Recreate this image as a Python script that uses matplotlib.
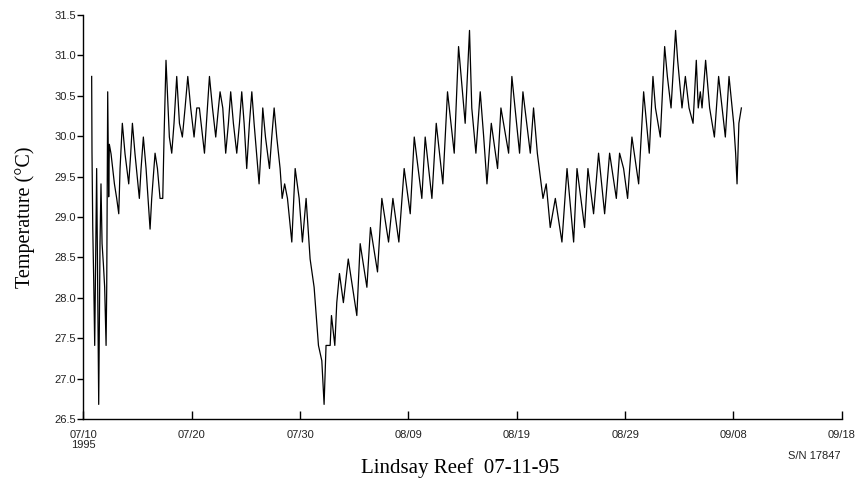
import matplotlib
matplotlib.use("Agg")
import matplotlib.pyplot as plt
import matplotlib.dates as mdates
import pandas as pd
import numpy as np

# time in days after 1995-07-10 00:00
days = [0.77, 0.80, 0.87, 0.96, 1.05, 1.23, 1.33, 1.42, 1.54, 1.63, 1.73, 1.85, 1.97, 2.10, 2.16,
        2.25, 2.34, 2.40, 2.56, 2.71, 2.87, 3.08, 3.27, 3.39, 3.60, 3.85, 4.19, 4.37, 4.53, 4.77,
        5.17, 5.33, 5.54, 5.79, 6.16, 6.31, 6.62, 6.84, 7.08, 7.33, 7.45, 7.63, 7.76, 7.94, 8.16,
        8.37, 8.62, 8.87, 9.14, 9.39, 9.64, 9.91, 10.22, 10.47, 10.71, 11.18, 11.45, 11.64, 11.92,
        12.22, 12.47, 12.62, 12.87, 13.14, 13.39, 13.60, 13.85, 14.16, 14.41, 14.62, 14.84, 15.08,
        15.33, 15.55, 15.76, 16.22, 16.38, 16.56, 16.81, 17.18, 17.39, 17.61, 17.85, 18.16, 18.35,
        18.58, 18.84, 19.24, 19.55, 19.92, 20.22, 20.56, 20.93, 21.30, 21.70, 22.01, 22.22, 22.40,
        22.78, 22.90, 23.21, 23.39, 23.64, 24.00, 24.45, 24.85, 25.24, 25.55, 26.17, 26.50, 27.15,
        27.55, 28.17, 28.57, 29.12, 29.61, 30.17, 30.54, 31.24, 31.55, 32.17, 32.57, 33.18, 33.61,
        34.23, 34.63, 35.24, 35.64, 35.85, 36.23, 36.63, 36.95, 37.25, 37.65, 38.23, 38.54, 39.25,
        39.55, 40.26, 40.57, 41.25, 41.55, 41.90, 42.42, 42.72, 43.09, 43.56, 44.17, 44.64, 45.25,
        45.56, 46.26, 46.57, 47.09, 47.55, 48.11, 48.57, 49.19, 49.49, 49.86, 50.23, 50.63, 51.25,
        51.71, 52.23, 52.57, 52.80, 53.25, 53.65, 53.90, 54.24, 54.66, 54.85, 55.25, 55.56, 55.90,
        56.27, 56.57, 56.75, 56.94, 57.10, 57.43, 57.80, 58.24, 58.63, 59.25, 59.59, 60.02, 60.20,
        60.33, 60.50, 60.73]
temps = [30.74, 29.80, 28.87, 28.21, 27.41, 29.60, 28.13, 26.68, 28.67, 29.41, 28.67, 28.42, 28.13, 27.41, 28.13,
         30.55, 29.25, 29.90, 29.78, 29.60, 29.41, 29.23, 29.04, 29.60, 30.16, 29.78, 29.41, 29.78, 30.16, 29.78,
         29.23, 29.60, 29.99, 29.60, 28.85, 29.23, 29.79, 29.60, 29.23, 29.23, 29.99, 30.94, 30.55, 29.99, 29.79,
         30.16, 30.74, 30.16, 29.99, 30.35, 30.74, 30.35, 29.99, 30.35, 30.35, 29.79, 30.35, 30.74, 30.35,
         29.99, 30.35, 30.55, 30.35, 29.79, 30.16, 30.55, 30.16, 29.79, 30.16, 30.55, 30.16, 29.60,
         30.16, 30.55, 30.16, 29.41, 29.79, 30.35, 29.99, 29.60, 29.99, 30.35, 29.99, 29.60, 29.23,
         29.41, 29.23, 28.69, 29.60, 29.23, 28.69, 29.23, 28.48, 28.13, 27.41, 27.22, 26.68, 27.41,
         27.41, 27.78, 27.41, 27.94, 28.30, 27.94, 28.48, 28.13, 27.78, 28.67, 28.13, 28.87, 28.32,
         29.23, 28.69, 29.23, 28.69, 29.60, 29.04, 29.99, 29.23, 29.99, 29.23, 30.16, 29.41, 30.55,
         29.79, 31.11, 30.16, 31.31, 30.35, 29.79, 30.55, 29.99, 29.41, 30.16, 29.60, 30.35, 29.79,
         30.74, 29.79, 30.55, 29.79, 30.35, 29.79, 29.23, 29.41, 28.87, 29.23, 28.69, 29.60, 28.69,
         29.60, 28.87, 29.60, 29.04, 29.79, 29.04, 29.79, 29.23, 29.79, 29.60, 29.23, 29.99, 29.41,
         30.55, 29.79, 30.74, 30.35, 29.99, 31.11, 30.74, 30.35, 31.31, 30.94, 30.35, 30.74, 30.35,
         30.16, 30.94, 30.35, 30.55, 30.35, 30.94, 30.35, 29.99, 30.74, 29.99, 30.74, 30.16, 29.79,
         29.41, 30.16, 30.35]

tick_dates = ["1995-07-10", "1995-07-20", "1995-07-30", "1995-08-09", "1995-08-19",
              "1995-08-29", "1995-09-08", "1995-09-18"]
tick_labels = ["07/10\n1995", "07/20", "07/30", "08/09", "08/19", "08/29", "09/08", "09/18"]
y_ticks = [26.5, 27.0, 27.5, 28.0, 28.5, 29.0, 29.5, 30.0, 30.5, 31.0, 31.5]

start = pd.Timestamp("1995-07-10")
times = start + pd.to_timedelta(np.array(days), unit="D")

fig = plt.figure(figsize=(8.59, 4.86), dpi=100)
ax = fig.add_axes([0.097, 0.138, 0.883, 0.831])
ax.plot(times, temps, color="black", linewidth=0.9)

ax.set_xlim(pd.Timestamp(tick_dates[0]), pd.Timestamp(tick_dates[-1]))
ax.set_ylim(26.5, 31.5)
ax.set_xticks([pd.Timestamp(d) for d in tick_dates])
ax.set_xticklabels(tick_labels, family="Liberation Sans", fontsize=8, color="#222222",
                   linespacing=1.0)
ax.set_yticks(y_ticks)
ax.set_yticklabels([f"{v:.1f}" for v in y_ticks], family="Liberation Sans", fontsize=8, color="#222222")
ax.tick_params(axis="x", direction="in", length=6, width=1, pad=8)
ax.tick_params(axis="y", direction="out", length=4, width=1, pad=1)
for s in ["top", "right"]:
    ax.spines[s].set_visible(False)
for s in ["left", "bottom"]:
    ax.spines[s].set_linewidth(1)

ax.set_ylabel("Temperature (°C)", family="Liberation Serif", fontsize=14.5, labelpad=14)
fig.text(0.536, 0.026, "Lindsay Reef  07-11-95", family="Liberation Serif", fontsize=15,
         ha="center", va="baseline")
fig.text(0.978, 0.062, "S/N 17847", family="Liberation Sans", fontsize=8, color="#222222",
         ha="right", va="center")

fig.savefig("out.png", dpi=100)
